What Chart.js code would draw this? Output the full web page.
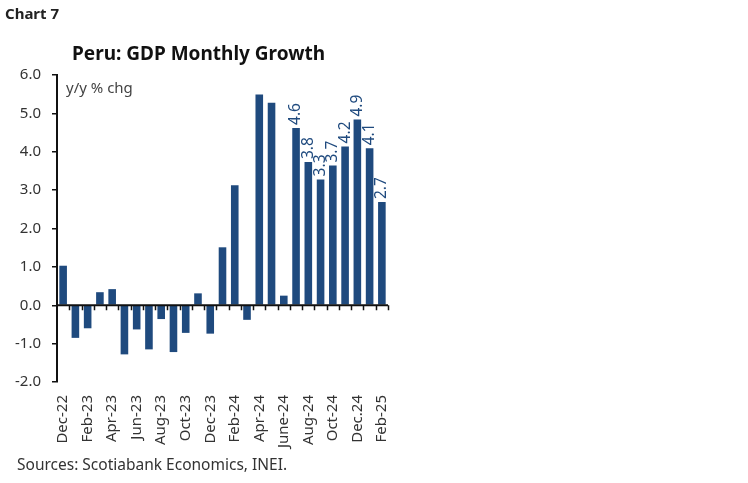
<!DOCTYPE html>
<html>
<head>
<meta charset="utf-8">
<script src="https://cdn.jsdelivr.net/npm/chart.js@4.4.1/dist/chart.umd.min.js"></script>
<style>
  html, body { margin: 0; padding: 0; background: #fff; }
  #wrap { position: relative; width: 748px; height: 483px; font-family: "Noto Sans", sans-serif; color: #222; }
  #chartNo { position: absolute; left: 5px; top: 3px; font-weight: bold; font-size: 15px; }
  #title { position: absolute; left: 72px; top: 40px; font-weight: bold; font-size: 19px; color: #111; }
  #source { position: absolute; left: 17px; top: 453px; font-size: 15.5px; color: #333; }
  #box { position: absolute; left: 0; top: 0; width: 748px; height: 483px; }
</style>
</head>
<body>
<div id="wrap">
  <div id="box"><canvas id="gdpChart"></canvas></div>
  <div id="chartNo">Chart 7</div>
  <div id="title">Peru: GDP Monthly Growth</div>
  <div id="source">Sources: Scotiabank Economics, INEI.</div>
</div>
<script>
// months Dec-22 .. Feb-25
const months = ['Dec-22','Jan-23','Feb-23','Mar-23','Apr-23','May-23','Jun-23','Jul-23','Aug-23','Sep-23','Oct-23','Nov-23',
  'Dec-23','Jan-24','Feb-24','Mar-24','Apr-24','May-24','June-24','Jul-24','Aug-24','Sep-24','Oct-24','Nov-24','Dec.24','Jan-25','Feb-25'];
const growth = [1.03, -0.85, -0.60, 0.34, 0.42, -1.28, -0.63, -1.15, -0.36, -1.22, -0.72, 0.31,
  -0.74, 1.51, 3.13, -0.38, 5.49, 5.28, 0.25, 4.62, 3.73, 3.28, 3.64, 4.14, 4.84, 4.09, 2.69];
// value labels shown only for the latest months
const valueLabels = ['','','','','','','','','','','','','','','','','','','','4.6','3.8','3.3','3.7','4.2','4.9','4.1','2.7'];
const yTicks = [6, 5, 4, 3, 2, 1, 0, -1, -2];

const barColor = '#1f4a7e';

// zero line with category ticks, unit note and bar value labels
const extras = {
  id: 'extras',
  afterDatasetsDraw(chart) {
    const { ctx, chartArea, scales: { x, y } } = chart;
    const y0 = y.getPixelForValue(0);
    ctx.save();
    ctx.strokeStyle = '#111';
    ctx.lineWidth = 2;
    ctx.beginPath();
    ctx.moveTo(chartArea.left, y0);
    ctx.lineTo(chartArea.right, y0);
    ctx.stroke();
    ctx.lineWidth = 1.5;
    const step = (chartArea.right - chartArea.left) / months.length;
    ctx.beginPath();
    for (let i = 1; i <= months.length; i++) {
      const px = Math.round(chartArea.left + step * i) + 0.5;
      ctx.moveTo(px, y0);
      ctx.lineTo(px, y0 + 5);
    }
    ctx.stroke();

    ctx.fillStyle = '#444';
    ctx.font = '15px "Noto Sans"';
    ctx.textAlign = 'left';
    ctx.textBaseline = 'middle';
    ctx.fillText('y/y % chg', chartArea.left + 9, chartArea.top + 14);

    const meta = chart.getDatasetMeta(0);
    ctx.fillStyle = barColor;
    ctx.font = '15.5px "Noto Sans"';
    meta.data.forEach((bar, i) => {
      if (!valueLabels[i]) return;
      ctx.save();
      ctx.translate(bar.x, bar.y - 3);
      ctx.rotate(-Math.PI / 2);
      ctx.textAlign = 'left';
      ctx.textBaseline = 'middle';
      ctx.fillText(valueLabels[i], 0, 0);
      ctx.restore();
    });
    ctx.restore();
  }
};

new Chart(document.getElementById('gdpChart'), {
  type: 'bar',
  data: {
    labels: months,
    datasets: [{
      data: growth,
      backgroundColor: barColor,
      barPercentage: 0.62,
      categoryPercentage: 1
    }]
  },
  options: {
    responsive: true,
    maintainAspectRatio: false,
    animation: false,
    layout: { padding: { left: 0, right: 360, top: 75, bottom: 0 } },
    plugins: { legend: { display: false }, tooltip: { enabled: false } },
    scales: {
      x: {
        grid: { display: false },
        border: { display: false },
        afterFit: s => { s.height = 101; },
        ticks: {
          autoSkip: false,
          minRotation: 90,
          maxRotation: 90,
          padding: 5,
          color: '#333',
          font: { family: 'Noto Sans', size: 15 },
          callback: (v, i) => (i % 2 === 0 ? months[i] : '')
        }
      },
      y: {
        min: -2,
        max: 6,
        afterFit: s => { s.width = 57; },
        afterBuildTicks: s => { s.ticks = yTicks.map(v => ({ value: v })); },
        border: { display: true, color: '#111', width: 2 },
        grid: { drawOnChartArea: false, tickLength: 5, color: '#111', lineWidth: 1.5 },
        ticks: {
          padding: 11,
          color: '#333',
          font: { family: 'Noto Sans', size: 15 },
          callback: v => v.toFixed(1)
        }
      }
    }
  },
  plugins: [extras]
});
</script>
</body>
</html>
